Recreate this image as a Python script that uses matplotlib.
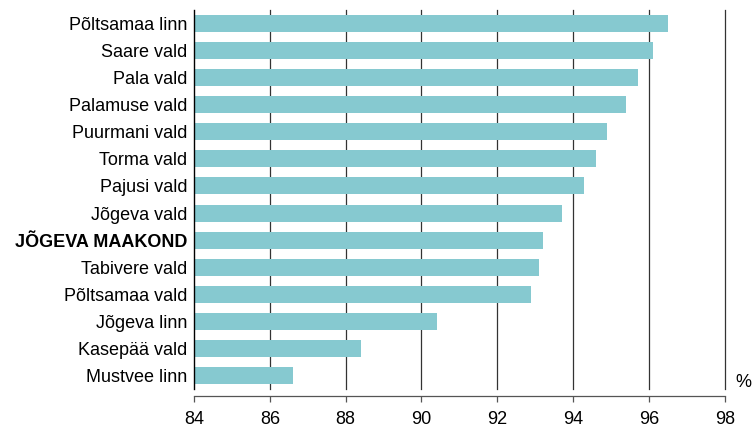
import matplotlib.pyplot as plt

plt.rcParams["font.family"] = ["Liberation Sans", "DejaVu Sans"]

# --- data (top to bottom) ---
names = ["Põltsamaa linn", "Saare vald", "Pala vald", "Palamuse vald",
         "Puurmani vald", "Torma vald", "Pajusi vald", "Jõgeva vald",
         "JÕGEVA MAAKOND", "Tabivere vald", "Põltsamaa vald", "Jõgeva linn",
         "Kasepää vald", "Mustvee linn"]
values = [96.5, 96.1, 95.7, 95.4, 94.9, 94.6, 94.3, 93.7,
          93.2, 93.1, 92.9, 90.4, 88.4, 86.6]
xticks = [84, 86, 88, 90, 92, 94, 96, 98]

fig = plt.figure(figsize=(7.53, 4.26), dpi=100)
ax = fig.add_axes([194 / 753, 1 - 389 / 426, (724.7 - 194) / 753, 379 / 426])

pos = list(range(len(names)))[::-1]
ax.barh(pos, [v - 84 for v in values], left=84, height=0.63,
        color="#86c9d0", zorder=2)

ax.set_xlim(84, 98)
ax.set_ylim(-0.5, 13.5)
ax.set_xticks(xticks)
ax.set_yticks(pos)
ax.set_yticklabels(names)
for lbl in ax.get_yticklabels():
    if lbl.get_text() == "JÕGEVA MAAKOND":
        lbl.set_fontweight("bold")

for t in xticks[1:]:
    ax.axvline(t, color="#333333", lw=0.9, zorder=1, clip_on=False)

ax.tick_params(axis="y", length=0, pad=5, labelsize=13)
ax.tick_params(axis="x", direction="out", length=4.5, width=0.9,
               color="#555555", pad=6, labelsize=13)
for s in ["top", "right"]:
    ax.spines[s].set_visible(False)
ax.spines["left"].set_color("black")
ax.spines["left"].set_linewidth(1.0)
ax.spines["bottom"].set_position(("outward", 5))
ax.spines["bottom"].set_color("#555555")
ax.spines["bottom"].set_linewidth(0.9)

ax.text(1.02, -0.005, "%", transform=ax.transAxes, fontsize=13,
        ha="left", va="bottom")

plt.savefig("out.png", dpi=100)
